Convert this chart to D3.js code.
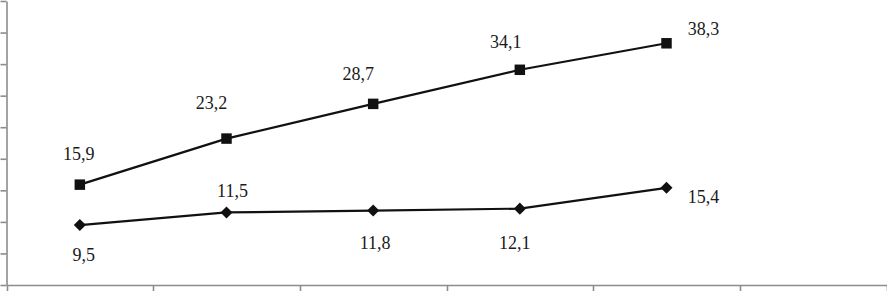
<!DOCTYPE html>
<html>
<head>
<meta charset="utf-8">
<script src="https://cdn.jsdelivr.net/npm/d3@7"></script>
<style>
  body { margin: 0; background: #fff; }
  .axis path, .axis line { stroke: #8c8c8c; stroke-width: 1.6; }
</style>
</head>
<body>
<svg id="chart" width="887" height="291"></svg>
<script>
const categories = ["1", "2", "3", "4", "5", "6"];
const upper = [15.9, 23.2, 28.7, 34.1, 38.3];
const lower = [9.5, 11.5, 11.8, 12.1, 15.4];
const yTicks = [0, 5, 10, 15, 20, 25, 30, 35, 40, 45];

// label offsets (excel-ish placement), px relative to the point
const upperLabelOffset = [[-1, -25], [-15, -30], [-15, -24], [-14, -22], [37, -8]];
const lowerLabelOffset = [[4, 36], [6, -15], [2, 38], [-5, 40], [37, 15]];

const svg = d3.select("#chart");
const left = 6.5, bottom = 285;

const x = d3.scaleBand().domain(categories).range([left, 886.5]);
const y = d3.scaleLinear().domain([0, 45]).range([bottom, 1]);

svg.append("g")
  .attr("class", "axis")
  .attr("transform", `translate(${left},0)`)
  .call(d3.axisLeft(y).tickValues(yTicks).tickSize(6).tickSizeOuter(0).tickFormat(""));

svg.append("g")
  .attr("class", "axis")
  .attr("transform", `translate(0,${bottom})`)
  .call(d3.axisBottom(x).tickValues([]).tickSizeOuter(0))
  .call(g => g.selectAll(".edge")
    .data(x.domain().map(d => x(d)).concat([x.range()[1]]))
    .join("line")
    .attr("class", "edge")
    .attr("x1", d => Math.round(d) + 0.5).attr("x2", d => Math.round(d) + 0.5)
    .attr("y1", 0).attr("y2", 6));

const cx = (d, i) => x(categories[i]) + x.bandwidth() / 2;
const line = d3.line().x(cx).y(d => y(d));

function drawSeries(values, symbolType, size, offsets) {
  const g = svg.append("g");
  g.append("path")
    .datum(values)
    .attr("d", line)
    .attr("fill", "none")
    .attr("stroke", "#111")
    .attr("stroke-width", 2.2);
  g.selectAll("path.mark")
    .data(values)
    .join("path")
    .attr("class", "mark")
    .attr("transform", (d, i) => `translate(${cx(d, i)},${y(d)})`)
    .attr("d", d3.symbol().type(symbolType).size(size))
    .attr("fill", "#111");
  g.selectAll("text")
    .data(values)
    .join("text")
    .attr("font-family", "'Liberation Serif', 'DejaVu Serif', serif")
    .attr("font-size", 18)
    .attr("fill", "#1a1a1a")
    .attr("text-anchor", "middle")
    .attr("x", (d, i) => cx(d, i) + offsets[i][0])
    .attr("y", (d, i) => y(d) + offsets[i][1])
    .text(d => d3.format(".1f")(d).replace(".", ","));
}

const diamond = {
  draw(ctx, size) {
    const r = Math.sqrt(size) / 2 * 1.15;
    ctx.moveTo(0, -r); ctx.lineTo(r, 0); ctx.lineTo(0, r); ctx.lineTo(-r, 0); ctx.closePath();
  }
};

drawSeries(lower, diamond, 110, lowerLabelOffset);
drawSeries(upper, d3.symbolSquare, 110, upperLabelOffset);
</script>
</body>
</html>
